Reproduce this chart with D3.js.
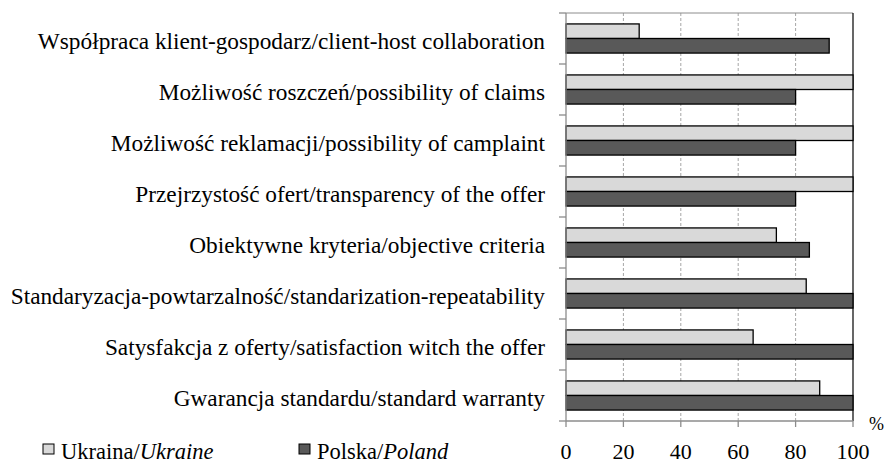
<!DOCTYPE html>
<html><head><meta charset="UTF-8">
<script src="https://d3js.org/d3.v7.min.js"></script>
<style>
body{margin:0;background:#fff}
</style></head><body><div id="chart"></div>
<script>
const categories = [
  'Współpraca klient-gospodarz/client-host collaboration',
  'Możliwość roszczeń/possibility of claims',
  'Możliwość  reklamacji/possibility of camplaint',
  'Przejrzystość ofert/transparency of the offer',
  'Obiektywne kryteria/objective criteria',
  'Standaryzacja-powtarzalność/standarization-repeatability',
  'Satysfakcja z oferty/satisfaction witch the offer',
  'Gwarancja standardu/standard warranty'
];
const ukraine = [25.5, 100, 100, 100, 73.3, 83.7, 65.2, 88.4];
const poland = [91.7, 80, 80, 80, 84.8, 100, 100, 100];
const xTicks = [0, 20, 40, 60, 80, 100];
const seriesNames = ['ukraine', 'poland'];
const fills = { ukraine: '#d9d9d9', poland: '#595959' };
const FONT = '"Liberation Serif", "Times New Roman", Tinos, serif';

const W = 889, H = 465;
const svg = d3.select('#chart').append('svg').attr('width', W).attr('height', H)
  .attr('font-family', FONT);

const x = d3.scaleLinear().domain([0, 100]).range([566, 853]);
const y = d3.scaleBand().domain(categories).range([13, 421]);
const ySub = d3.scaleBand().domain(seriesNames).range([0, y.bandwidth()]).paddingInner(0).paddingOuter(0.75);

// grid
svg.append('g').selectAll('line').data(xTicks.filter(t => t > 0 && t < 100)).join('line')
  .attr('x1', d => x(d)).attr('x2', d => x(d)).attr('y1', 13).attr('y2', 421)
  .attr('stroke', '#a6a6a6').attr('stroke-width', 1).attr('stroke-dasharray', '3,2');
// frame
svg.append('line').attr('x1', 566).attr('x2', 853).attr('y1', 13).attr('y2', 13).attr('stroke', '#8c8c8c');
svg.append('line').attr('x1', x(100)).attr('x2', x(100)).attr('y1', 13).attr('y2', 421).attr('stroke', '#000').attr('stroke-width', 1.2);

// bars
const rows = categories.map((c, i) => ({ c, ukraine: ukraine[i], poland: poland[i] }));
const g = svg.append('g').selectAll('g').data(rows).join('g')
  .attr('transform', d => `translate(0,${y(d.c)})`);
g.selectAll('rect').data(d => seriesNames.map(s => ({ s, v: d[s] }))).join('rect')
  .attr('x', x(0)).attr('y', d => ySub(d.s)).attr('width', d => x(d.v) - x(0)).attr('height', ySub.bandwidth())
  .attr('fill', d => fills[d.s]).attr('stroke', '#000').attr('stroke-width', 1.3);

// y axis
const yAxis = svg.append('g').attr('transform', `translate(${x(0)},0)`);
yAxis.append('line').attr('x1', 0).attr('x2', 0).attr('y1', 13).attr('y2', 421).attr('stroke', '#8c8c8c').attr('stroke-width', 1.3);
yAxis.selectAll('.tk').data(categories.concat([null])).join('line')
  .attr('x1', -7).attr('x2', 0)
  .attr('y1', (d, i) => i < categories.length ? y(d) : 421).attr('y2', (d, i) => i < categories.length ? y(d) : 421)
  .attr('stroke', '#8c8c8c').attr('stroke-width', 1.3);
yAxis.selectAll('text').data(categories).join('text')
  .attr('x', -21).attr('y', d => y(d) + y.bandwidth() / 2 + 10.5)
  .attr('text-anchor', 'end').attr('font-size', 23.3).text(d => d);

// x axis
const xAxis = svg.append('g').attr('transform', 'translate(0,421)');
xAxis.append('line').attr('x1', x(0)).attr('x2', x(100)).attr('stroke', '#8c8c8c').attr('stroke-width', 1.3);
xAxis.selectAll('.tk').data(xTicks).join('line')
  .attr('x1', d => x(d)).attr('x2', d => x(d)).attr('y1', 0).attr('y2', 6)
  .attr('stroke', '#8c8c8c').attr('stroke-width', 1.3);
xAxis.selectAll('text').data(xTicks).join('text')
  .attr('x', d => x(d)).attr('y', 38).attr('text-anchor', 'middle').attr('font-size', 22).text(d => d);
svg.append('text').attr('x', 869).attr('y', 430).attr('font-size', 18).text('%');

// legend
const legend = [
  { key: 'ukraine', a: 'Ukraina/', b: 'Ukraine', x: 43 },
  { key: 'poland', a: 'Polska/', b: 'Poland', x: 299 }
];
const lg = svg.append('g').selectAll('g').data(legend).join('g');
lg.append('rect').attr('x', d => d.x).attr('y', 444).attr('width', 11).attr('height', 10)
  .attr('fill', d => fills[d.key]).attr('stroke', '#000').attr('stroke-width', 1);
const lt = lg.append('text').attr('x', d => d.x + 18).attr('y', 459).attr('font-size', 22.5).attr('fill', '#000');
lt.append('tspan').text(d => d.a);
lt.append('tspan').attr('font-style', 'italic').text(d => d.b);
</script></body></html>
